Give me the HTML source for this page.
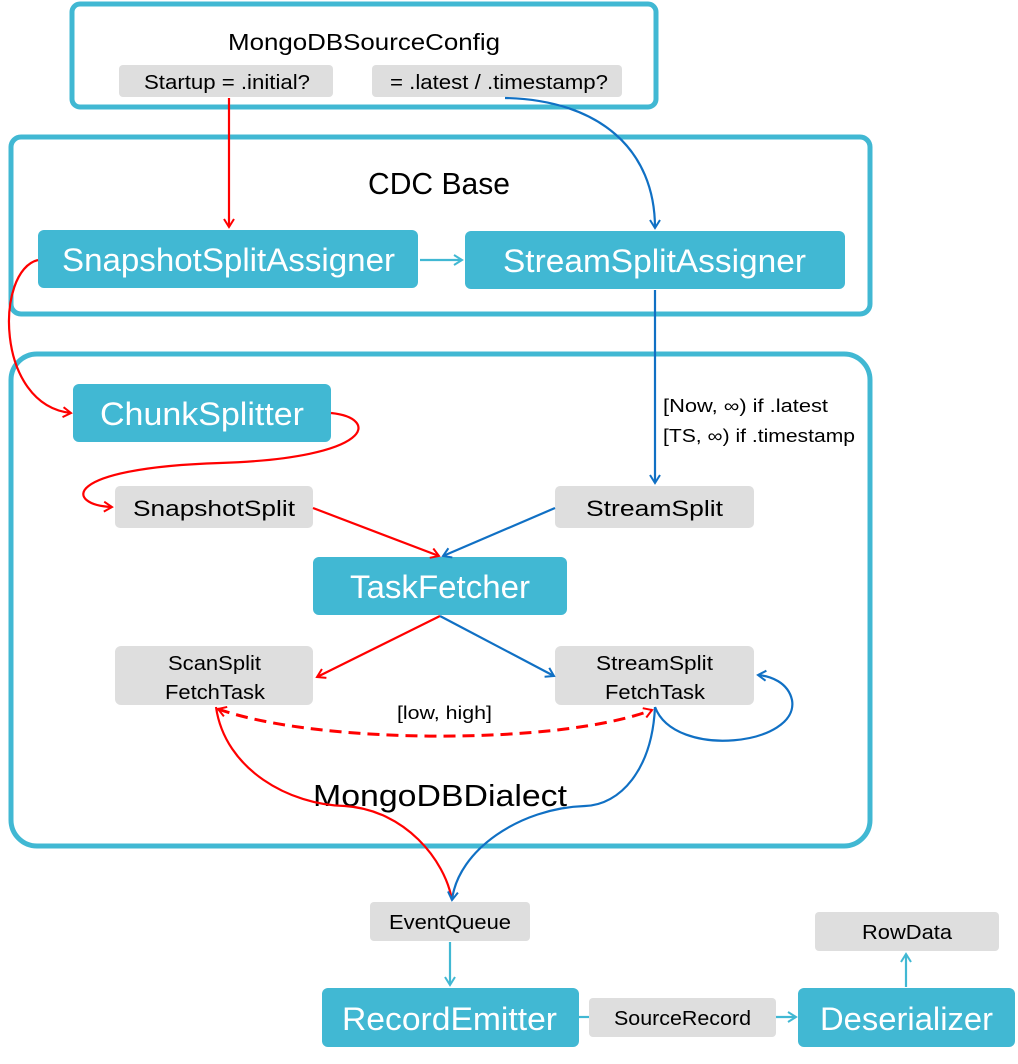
<!DOCTYPE html>
<html><head><meta charset="utf-8"><style>
html,body{margin:0;padding:0;background:#fff;}
svg{display:block;font-family:"Liberation Sans",sans-serif;}
</style></head><body>
<svg width="1018" height="1064" viewBox="0 0 1018 1064" xmlns="http://www.w3.org/2000/svg">
<defs>
<marker id="ar" markerWidth="12" markerHeight="12" refX="9" refY="6" orient="auto" markerUnits="userSpaceOnUse"><path d="M1,1 L9,6 L1,11" fill="none" stroke="#f00" stroke-width="2"/></marker>
<marker id="ab" markerWidth="12" markerHeight="12" refX="9" refY="6" orient="auto" markerUnits="userSpaceOnUse"><path d="M1,1 L9,6 L1,11" fill="none" stroke="#1070c4" stroke-width="2"/></marker>
<marker id="at" markerWidth="12" markerHeight="12" refX="9" refY="6" orient="auto" markerUnits="userSpaceOnUse"><path d="M1,1 L9,6 L1,11" fill="none" stroke="#41b8d3" stroke-width="2"/></marker>
<marker id="ars" markerWidth="12" markerHeight="12" refX="3" refY="6" orient="auto" markerUnits="userSpaceOnUse"><path d="M11,1 L3,6 L11,11" fill="none" stroke="#f00" stroke-width="2"/></marker>
</defs>
<g fill="none" stroke="#41b8d3" stroke-width="5">
<rect x="72" y="4" width="584" height="103" rx="8"/>
<rect x="11" y="137" width="859" height="177" rx="10"/>
<rect x="11" y="354" width="859" height="492" rx="26"/>
</g>
<g fill="#dedede">
<rect x="119" y="65" width="214" height="32" rx="4"/>
<rect x="372" y="65" width="250" height="32" rx="4"/>
<rect x="115" y="486" width="198" height="42" rx="5"/>
<rect x="555" y="486" width="199" height="42" rx="5"/>
<rect x="115" y="646" width="198" height="59" rx="6"/>
<rect x="555" y="646" width="199" height="59" rx="6"/>
<rect x="370" y="902" width="160" height="39" rx="4"/>
<rect x="589" y="998" width="187" height="39" rx="4"/>
<rect x="815" y="912" width="184" height="39" rx="4"/>
</g>
<g fill="#41b8d3">
<rect x="38" y="230" width="380" height="58" rx="6"/>
<rect x="465" y="231" width="380" height="58" rx="6"/>
<rect x="73" y="384" width="258" height="58" rx="6"/>
<rect x="313" y="557" width="254" height="58" rx="6"/>
<rect x="322" y="988" width="257" height="59" rx="6"/>
<rect x="798" y="988" width="217" height="59" rx="6"/>
</g>
<g fill="#000" lengthAdjust="spacingAndGlyphs">
<text x="228" y="50" font-size="23" textLength="272" lengthAdjust="spacingAndGlyphs">MongoDBSourceConfig</text>
<text x="144" y="89" font-size="20" textLength="166" lengthAdjust="spacingAndGlyphs">Startup = .initial?</text>
<text x="390" y="89" font-size="20" textLength="218" lengthAdjust="spacingAndGlyphs">= .latest / .timestamp?</text>
<text x="368" y="194" font-size="31" textLength="142" lengthAdjust="spacingAndGlyphs">CDC Base</text>
<text x="133" y="516" font-size="22" textLength="162" lengthAdjust="spacingAndGlyphs">SnapshotSplit</text>
<text x="586" y="516" font-size="22" textLength="137" lengthAdjust="spacingAndGlyphs">StreamSplit</text>
<text x="168" y="670" font-size="20" textLength="93" lengthAdjust="spacingAndGlyphs">ScanSplit</text>
<text x="165" y="699" font-size="20" textLength="100" lengthAdjust="spacingAndGlyphs">FetchTask</text>
<text x="596" y="670" font-size="20" textLength="117" lengthAdjust="spacingAndGlyphs">StreamSplit</text>
<text x="605" y="699" font-size="20" textLength="100" lengthAdjust="spacingAndGlyphs">FetchTask</text>
<text x="397" y="719" font-size="18" textLength="95" lengthAdjust="spacingAndGlyphs">[low, high]</text>
<text x="313" y="806" font-size="31" textLength="254" lengthAdjust="spacingAndGlyphs">MongoDBDialect</text>
<text x="389" y="929" font-size="20" textLength="122" lengthAdjust="spacingAndGlyphs">EventQueue</text>
<text x="614" y="1025" font-size="20" textLength="137" lengthAdjust="spacingAndGlyphs">SourceRecord</text>
<text x="862" y="939" font-size="20" textLength="90" lengthAdjust="spacingAndGlyphs">RowData</text>
<text x="663" y="412" font-size="18" textLength="165" lengthAdjust="spacingAndGlyphs">[Now, ∞) if .latest</text>
<text x="663" y="442" font-size="18" textLength="192" lengthAdjust="spacingAndGlyphs">[TS, ∞) if .timestamp</text>
</g>
<g fill="#fff" font-size="32">
<text x="62" y="271" textLength="333" lengthAdjust="spacingAndGlyphs">SnapshotSplitAssigner</text>
<text x="503" y="272" textLength="303" lengthAdjust="spacingAndGlyphs">StreamSplitAssigner</text>
<text x="100" y="425" textLength="204" lengthAdjust="spacingAndGlyphs">ChunkSplitter</text>
<text x="350" y="598" textLength="180" lengthAdjust="spacingAndGlyphs">TaskFetcher</text>
<text x="342" y="1030" textLength="215" lengthAdjust="spacingAndGlyphs">RecordEmitter</text>
<text x="820" y="1030" textLength="173" lengthAdjust="spacingAndGlyphs">Deserializer</text>
</g>
<g fill="none" stroke-width="2.2">
<path d="M229,98 L229,227" stroke="#f00" marker-end="url(#ar)"/>
<path d="M505,98 C600,100 655,150 655,228" stroke="#1070c4" marker-end="url(#ab)"/>
<path d="M420,260 L462,260" stroke="#41b8d3" marker-end="url(#at)"/>
<path d="M38,260 C-5,270 -5,405 71,413" stroke="#f00" marker-end="url(#ar)"/>
<path d="M331,413 C380,418 375,458 220,463 C60,468 65,505 112,507" stroke="#f00" marker-end="url(#ar)"/>
<path d="M655,290 L655,483" stroke="#1070c4" marker-end="url(#ab)"/>
<path d="M313,508 L439,556" stroke="#f00" marker-end="url(#ar)"/>
<path d="M555,508 L443,556" stroke="#1070c4" marker-end="url(#ab)"/>
<path d="M440,616 L317,677" stroke="#f00" marker-end="url(#ar)"/>
<path d="M440,616 L554,676" stroke="#1070c4" marker-end="url(#ab)"/>
<path d="M655,707 C675,760 800,745 792,700 C788,682 770,676 758,675" stroke="#1070c4" marker-end="url(#ab)"/>
<path d="M218,709 C320,745 560,745 652,710" stroke="#f00" stroke-width="3" stroke-dasharray="12,7" marker-start="url(#ars)" marker-end="url(#ar)"/>
<path d="M216,707 C225,770 290,805 345,806 C405,810 445,860 452,900" stroke="#f00"/>
<path d="M655,707 C652,770 620,805 585,806 C520,808 458,850 452,900" stroke="#1070c4" marker-end="url(#ab)"/>
<path d="M450,942 L450,985" stroke="#41b8d3" marker-end="url(#at)"/>
<path d="M579,1017 L589,1017" stroke="#41b8d3"/>
<path d="M776,1017 L796,1017" stroke="#41b8d3" marker-end="url(#at)"/>
<path d="M906,987 L906,954" stroke="#41b8d3" marker-end="url(#at)"/>
</g>
</svg>
</body></html>
